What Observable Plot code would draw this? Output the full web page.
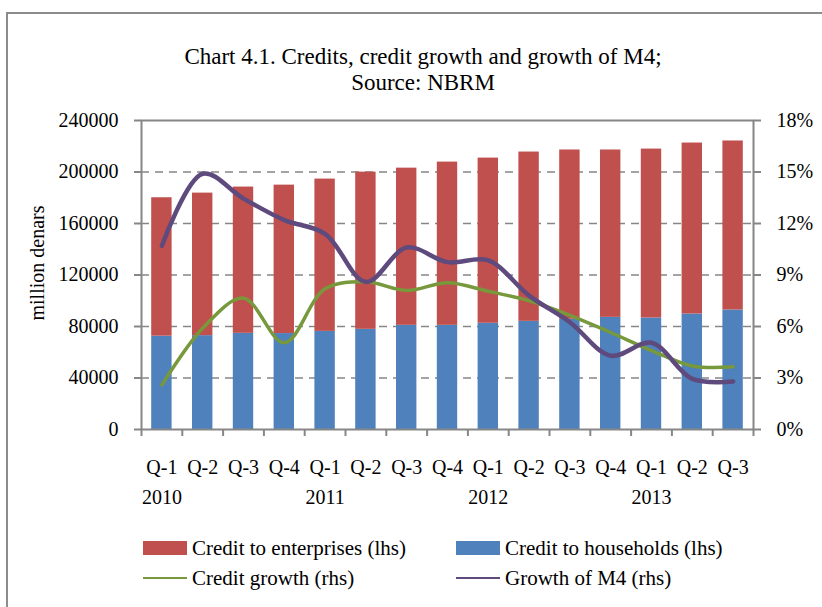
<!DOCTYPE html>
<html><head><meta charset="utf-8">
<script src="https://cdn.jsdelivr.net/npm/d3@7"></script>
<script src="https://cdn.jsdelivr.net/npm/@observablehq/plot@0.6"></script>
<style>
body{margin:0;background:#fff;font-family:"Liberation Serif",serif;color:#000;}
#wrap{position:relative;width:822px;height:607px;overflow:hidden;}
#border{position:absolute;left:6px;top:12px;width:900px;height:700px;border:2px solid #8c8c8c;box-sizing:border-box;}
#chart{position:absolute;left:0;top:0;}
.title{position:absolute;left:0;width:846px;text-align:center;font-size:23px;line-height:24px;white-space:nowrap;}
#ylab{position:absolute;left:37px;top:263px;transform:translate(-50%,-50%) rotate(-90deg);font-size:20px;white-space:nowrap;}
.leg{position:absolute;font-size:21px;line-height:20px;white-space:nowrap;display:flex;align-items:center;}
.sw{display:inline-block;width:44px;height:14px;margin-right:5px;}
.ln{display:inline-block;width:44px;height:2px;margin-right:5px;}
</style></head>
<body>
<div id="wrap">
<div id="border"></div>
<div id="chart"></div>
<div class="title" style="top:45px">Chart 4.1. Credits, credit growth and growth of M4;</div>
<div class="title" style="top:71px">Source: NBRM</div>
<div id="ylab">million denars</div>
<div id="legend"></div>
</div>
<script>
const quarterLabels = ["Q-1","Q-2","Q-3","Q-4","Q-1","Q-2","Q-3","Q-4","Q-1","Q-2","Q-3","Q-4","Q-1","Q-2","Q-3"];
const yearLabels = ["2010","","","","2011","","","","2012","","","","2013","",""];
const households = [72500,72900,74700,74500,76200,77800,80900,80900,82500,84000,85600,87100,86600,89700,92800];
const enterprises = [107500,110700,113600,115300,118300,122100,122100,126800,128300,131500,131500,130000,131200,132800,131300];
const creditGrowth = [2.6,5.9,7.65,5.05,8.2,8.6,8.1,8.55,8.05,7.5,6.65,5.65,4.6,3.7,3.65];
const m4Growth = [10.7,14.9,13.45,12.2,11.4,8.6,10.6,9.75,9.85,7.8,6.25,4.3,5.05,2.95,2.8];
const leftTicks = [0,40000,80000,120000,160000,200000,240000];
const rightTicks = [0,3,6,9,12,15,18];
const barSeries = ["Credit to households (lhs)","Credit to enterprises (lhs)"];
const lineSeries = ["Credit growth (rhs)","Growth of M4 (rhs)"];
const colors = {"Credit to enterprises (lhs)":"#C0504D","Credit to households (lhs)":"#4F81BD","Credit growth (rhs)":"#77983B","Growth of M4 (rhs)":"#5E4A7D"};

const K = 240000/18;
const idx = d3.range(quarterLabels.length);
const barRows = idx.flatMap(i => [
  {i, series: barSeries[0], v: households[i]},
  {i, series: barSeries[1], v: enterprises[i]}
]);
const cgRows = idx.map(i => ({i, v: creditGrowth[i]*K}));
const m4Rows = idx.map(i => ({i, v: m4Growth[i]*K}));

const W = 822, H = 607, mL = 141, mR = 69, mT = 120, mB = 178;
const step = (W - mL - mR) / quarterLabels.length;
const grey = "#868686";

const plot = Plot.plot({
  width: W, height: H,
  marginLeft: mL, marginRight: mR, marginTop: mT, marginBottom: mB,
  style: {fontFamily: "Liberation Serif, serif", fontSize: "20px", color: "#000", background: "transparent", overflow: "visible"},
  x: {type: "band", domain: idx, paddingInner: 0.5, paddingOuter: 0.25, round: false, axis: null},
  y: {domain: [0, 240000], axis: null},
  color: {domain: Object.keys(colors), range: Object.values(colors)},
  marks: [
    Plot.ruleY(leftTicks.slice(1, -1), {stroke: grey, strokeWidth: 1.6, strokeDasharray: "8,6"}),
    Plot.barY(barRows, {x: "i", y: "v", fill: "series"}),
    Plot.line(cgRows, {x: "i", y: "v", stroke: colors["Credit growth (rhs)"], strokeWidth: 3.5, curve: "catmull-rom"}),
    Plot.line(m4Rows, {x: "i", y: "v", stroke: colors["Growth of M4 (rhs)"], strokeWidth: 4.5, curve: "catmull-rom"}),
    Plot.frame({stroke: grey, strokeWidth: 2}),
    Plot.axisY(leftTicks, {anchor: "left", label: null, tickSize: 7, tickPadding: 16, stroke: grey, strokeWidth: 2, tickFormat: d => String(d), fontSize: 20}),
    Plot.axisY(rightTicks.map(t => t*K), {anchor: "right", label: null, tickSize: 7, tickPadding: 16, stroke: grey, strokeWidth: 2, tickFormat: d => Math.round(d/K) + "%", fontSize: 20}),
    Plot.ruleX(idx, {x: d => d, y1: 0, y2: -5400, dx: -step/2, stroke: grey, strokeWidth: 2}),
    Plot.ruleX([idx[idx.length-1]], {x: d => d, y1: 0, y2: -5400, dx: step/2, stroke: grey, strokeWidth: 2}),
    Plot.text(idx, {x: d => d, y: 0, text: i => quarterLabels[i], dy: 38, fontSize: 20, fill: "#000"}),
    Plot.text(idx, {x: d => d, y: 0, text: i => yearLabels[i], dy: 68, fontSize: 20, fill: "#000"})
  ]
});
document.getElementById("chart").appendChild(plot);

const legend = document.getElementById("legend");
const legItems = [
  {name: "Credit to enterprises (lhs)", kind: "sw", left: 143, top: 538},
  {name: "Credit to households (lhs)", kind: "sw", left: 456, top: 538},
  {name: "Credit growth (rhs)", kind: "ln", left: 143, top: 568},
  {name: "Growth of M4 (rhs)", kind: "ln", left: 456, top: 568}
];
for (const it of legItems) {
  const d = document.createElement("div");
  d.className = "leg";
  d.style.left = it.left + "px";
  d.style.top = it.top + "px";
  const s = document.createElement("span");
  s.className = it.kind;
  s.style.background = colors[it.name];
  d.appendChild(s);
  d.appendChild(document.createTextNode(it.name));
  legend.appendChild(d);
}
</script>
</body></html>
